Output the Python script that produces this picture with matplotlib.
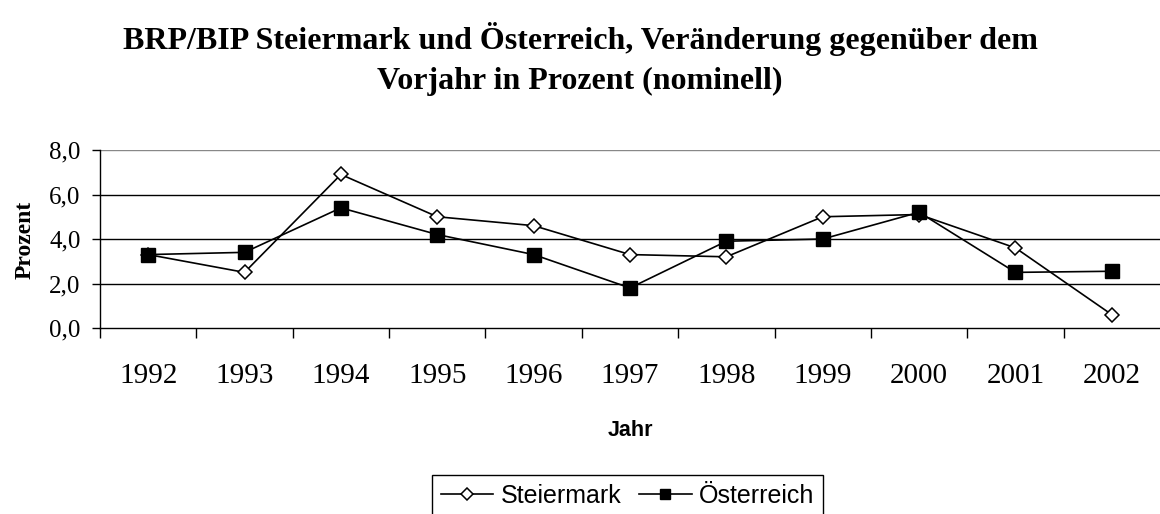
import matplotlib
matplotlib.use("Agg")
import matplotlib.pyplot as plt
from matplotlib.ticker import FixedLocator, FuncFormatter

years = ["1992", "1993", "1994", "1995", "1996", "1997", "1998", "1999", "2000", "2001", "2002"]
steiermark = [3.3, 2.5, 6.9, 5.0, 4.6, 3.3, 3.2, 5.0, 5.1, 3.6, 0.6]
oesterreich = [3.3, 3.4, 5.4, 4.2, 3.3, 1.8, 3.9, 4.0, 5.2, 2.5, 2.55]
yticks = [0, 2, 4, 6, 8]

W, H = 1160, 514
fig = plt.figure(figsize=(W / 100, H / 100), dpi=100)
ax = fig.add_axes([100 / W, 1 - 328 / H, (1160 - 100) / W, (328 - 150) / H])

x = list(range(len(years)))
ax.plot(x, steiermark, color="black", lw=1.2, marker="D", ms=7.3,
        mfc="white", mec="black", mew=1.1, label="Steiermark", zorder=3)
ax.plot(x, oesterreich, color="black", lw=1.2, marker="s", ms=9.5,
        mfc="black", mec="black", label="Österreich", zorder=3)

ax.set_xlim(-0.5, len(years) - 0.5)
ax.set_ylim(0, 8)
ax.set_yticks(yticks)
ax.yaxis.set_major_formatter(FuncFormatter(lambda v, p: f"{v:.1f}".replace(".", ",")))
for v in yticks[1:]:
    ax.axhline(v, color="black" if v < 8 else "#888888", lw=1.0, zorder=1)

ax.set_xticks(x)
ax.set_xticklabels(years, family="Liberation Serif", fontsize=21)
ax.xaxis.set_minor_locator(FixedLocator([i - 0.5 for i in range(len(years))]))
ax.tick_params(axis="x", which="major", length=0, pad=25)
ax.tick_params(axis="x", which="minor", length=7, width=1, direction="out", color="black")
ax.tick_params(axis="y", length=6, width=1, direction="out", pad=8, labelsize=18)
for lab in ax.get_yticklabels():
    lab.set_family("Liberation Serif")

for s in ["top", "right"]:
    ax.spines[s].set_visible(False)
ax.spines["left"].set_linewidth(1.0)
ax.spines["bottom"].set_linewidth(1.0)

fig.text(25 / W, 1 - 240 / H, "Prozent", rotation=90, ha="center", va="center",
         family="Liberation Serif", fontweight="bold", fontsize=17)
fig.text(630 / W, 1 - 431 / H, "Jahr", ha="center", va="center",
         family="Liberation Sans", fontweight="bold", fontsize=15.5)
fig.text(580 / W, 1 - 59 / H,
         "BRP/BIP Steiermark und Österreich, Veränderung gegenüber dem\nVorjahr in Prozent (nominell)",
         ha="center", va="center", family="Liberation Serif", fontweight="bold",
         fontsize=23, linespacing=1.45)

leg = fig.legend(loc="upper left", bbox_to_anchor=(432 / W, 1 - 475 / H), ncol=2,
                 frameon=True, fancybox=False, edgecolor="black", framealpha=1,
                 prop={"family": "Liberation Sans", "size": 18}, markerscale=0.8,
                 handlelength=2.1, handletextpad=0.3, columnspacing=0.7,
                 borderpad=0.35, borderaxespad=0)
leg.get_frame().set_linewidth(1.0)

fig.savefig("out.png", dpi=100)
